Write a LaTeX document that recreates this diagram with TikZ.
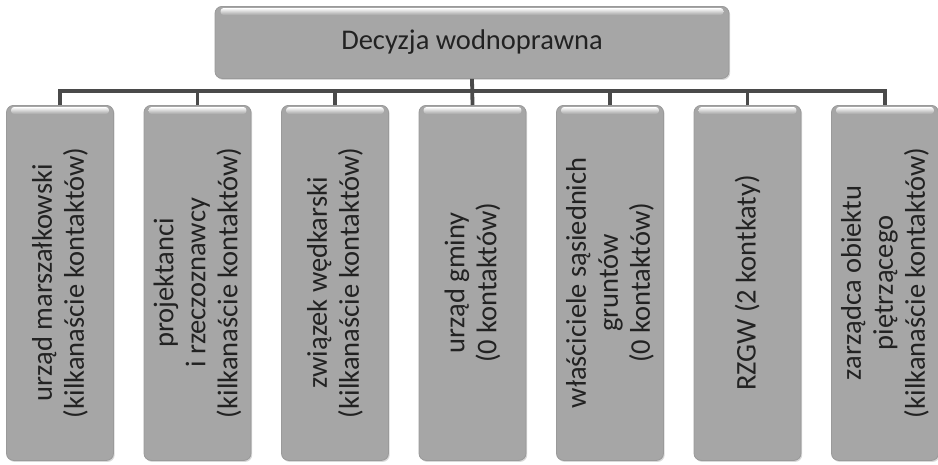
\documentclass[tikz,border=0pt]{standalone}
\usepackage{fontspec}
\setmainfont{Carlito}
\usetikzlibrary{shadows,calc}
\definecolor{boxfill}{HTML}{A6A6A6}
\definecolor{boxedge}{HTML}{9A9A9A}
\definecolor{txtcol}{HTML}{222222}
\definecolor{conn}{HTML}{4A4A4A}
\begin{document}
\begin{tikzpicture}[x=1pt,y=-1pt,
  card/.style={draw=boxedge, line width=0.8pt, fill=boxfill, rounded corners=7pt,
    inner sep=0pt, drop shadow={opacity=0.3, shadow xshift=1.2pt, shadow yshift=-1.5pt}},
  colbox/.style={card, minimum width=107pt, minimum height=355pt, anchor=north},
  topbox/.style={card, minimum width=514pt, minimum height=72pt, anchor=north},
  label/.style={text=txtcol, font=\fontsize{28.5}{32}\selectfont, align=center, inner sep=0pt},
  vlabel/.style={label, rotate=90},
  gloss/.style={top color=white, bottom color=boxfill, rounded corners=3pt},
  wire/.style={draw=conn, line width=3.8pt}
]
\useasboundingbox (0,0) rectangle (938,464);

% top box
\node[topbox] (top) at (472,6) {};
\shade[gloss] ($(top.north west)+(6,2)$) rectangle ($(top.north east)+(-6,9)$);
\node[label] (toptxt) at (top.center) {Decyzja wodnoprawna};

% column boxes
\foreach \i/\t in {1/{urząd marszałkowski\\(kilkanaście kontaktów)},
                   2/{projektanci\\i rzeczoznawcy\\(kilkanaście kontaktów)},
                   3/{związek wędkarski\\(kilkanaście kontaktów)},
                   4/{urząd gminy\\(0 kontaktów)},
                   5/{właściciele sąsiednich\\gruntów\\(0 kontaktów)},
                   6/{RZGW (2 kontkaty)},
                   7/{zarządca obiektu\\piętrzącego\\(kilkanaście kontaktów)}}{
  \node[colbox] (b\i) at ({60+137.5*(\i-1)},105) {};
  \shade[gloss] ($(b\i.north west)+(5,2)$) rectangle ($(b\i.north east)+(-5,9)$);
  \node[vlabel] (t\i) at (b\i.center) {\t};
}

% connectors
\coordinate (bus) at (472,91);
\draw[wire] (top.south) -- (b4.north);
\draw[wire] (b1.north) |- (bus) -| (b7.north);
\foreach \i in {2,3,5,6}{
  \draw[wire] (b\i.north) -- (b\i.north |- bus);
}
\end{tikzpicture}
\end{document}
